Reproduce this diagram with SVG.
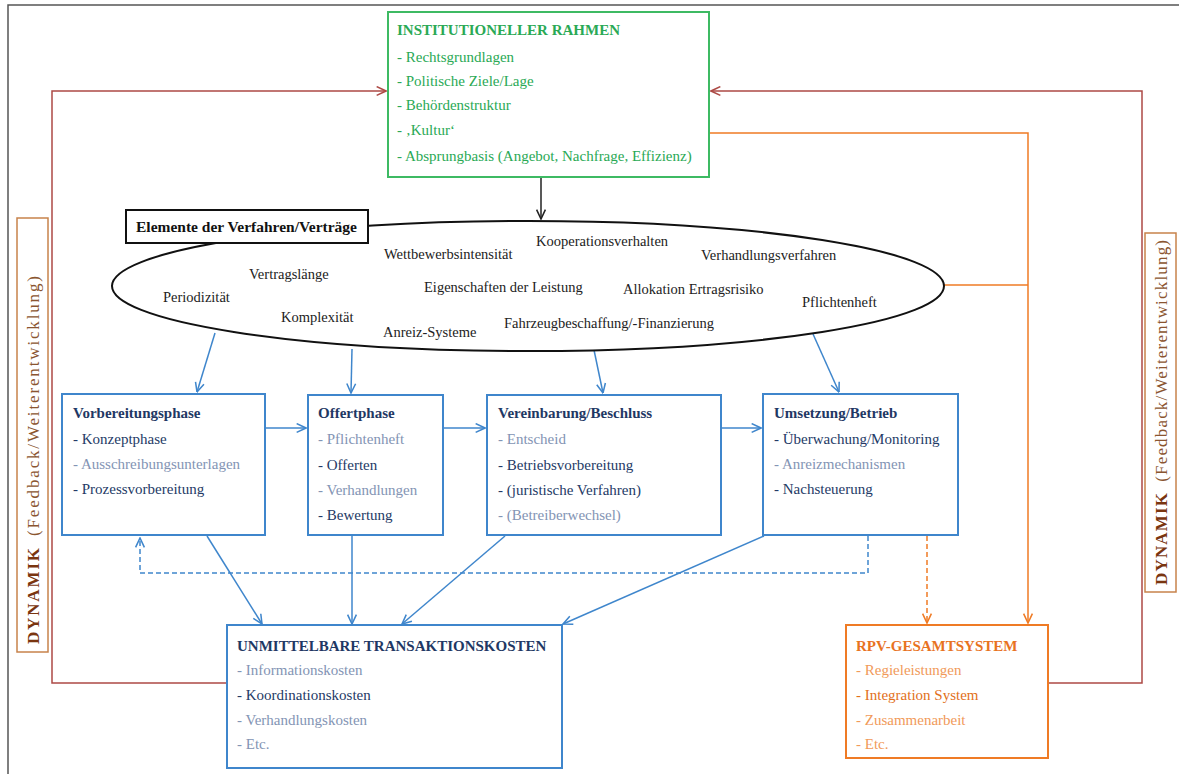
<svg xmlns="http://www.w3.org/2000/svg" width="1179" height="774" viewBox="0 0 1179 774">
  <defs>
    <marker id="ah-black" viewBox="0 0 10 10" refX="9.5" refY="5" markerWidth="11" markerHeight="11" markerUnits="userSpaceOnUse" orient="auto">
      <path d="M1,1 L9.5,5 L1,9" fill="none" stroke="#222" stroke-width="1.4"/>
    </marker>
    <marker id="ah-blue" viewBox="0 0 10 10" refX="9.5" refY="5" markerWidth="11" markerHeight="11" markerUnits="userSpaceOnUse" orient="auto">
      <path d="M1,1 L9.5,5 L1,9" fill="none" stroke="#3f86cc" stroke-width="1.4"/>
    </marker>
    <marker id="ah-orange" viewBox="0 0 10 10" refX="9.5" refY="5" markerWidth="11" markerHeight="11" markerUnits="userSpaceOnUse" orient="auto">
      <path d="M1,1 L9.5,5 L1,9" fill="none" stroke="#ef7b25" stroke-width="1.4"/>
    </marker>
    <marker id="ah-red" viewBox="0 0 10 10" refX="9.5" refY="5" markerWidth="11" markerHeight="11" markerUnits="userSpaceOnUse" orient="auto">
      <path d="M1,1 L9.5,5 L1,9" fill="none" stroke="#ad4a45" stroke-width="1.4"/>
    </marker>
  </defs>
  <style>
    text { font-family: "Liberation Serif", "Times New Roman", serif; font-size: 15px; }
    .box { fill: #fff; stroke-width: 2; }
    .blue { stroke: #3f86cc; }
    .green { stroke: #3dba63; }
    .orange { stroke: #ef7b25; }
    .tg { fill: #2aa955; }
    .tgb { fill: #2aa955; font-weight: bold; }
    .hd { fill: #1f3864; font-weight: bold; }
    .dk { fill: #243a66; }
    .lt { fill: #8394b4; }
    .oh { fill: #e8731f; font-weight: bold; }
    .od { fill: #e2701a; }
    .ol { fill: #f19a5a; }
    .el { fill: #222; font-size: 14.5px; }
    .title { fill: #111; font-weight: bold; font-size: 15.5px; }
    .con { fill: none; stroke-width: 1.5; }
    .dyn { fill: #fff; stroke: #c7834b; stroke-width: 1.5; }
    .dyntext { font-size: 17px; }
    .dynb { fill: #7a3510; font-weight: bold; }
    .dynl { fill: #8a5530; }
  </style>

  <rect width="1179" height="774" fill="#fff"/>
  <!-- page frame -->
  <path d="M8,774 V5 H1179" fill="none" stroke="#555" stroke-width="1.5"/>

  <!-- connectors -->
  <g id="connectors">
    <!-- feedback loops -->
    <path class="con" stroke="#ad4a45" d="M227,683 H52 V91 H386" marker-end="url(#ah-red)"/>
    <path class="con" stroke="#ad4a45" d="M1048,683 H1142 V91 H711" marker-end="url(#ah-red)"/>
    <!-- framework to elements -->
    <path class="con" stroke="#222" d="M541,177 V219" marker-end="url(#ah-black)"/>
    <!-- framework and elements to overall system -->
    <path class="con" stroke="#ef7b25" d="M709,133 H1028 V623" marker-end="url(#ah-orange)"/>
    <path class="con" stroke="#ef7b25" d="M944,285 H1028"/>
    <path class="con" stroke="#ef7b25" stroke-dasharray="5,3" d="M927,536 V623" marker-end="url(#ah-orange)"/>
    <!-- elements to phases -->
    <path class="con" stroke="#3f86cc" d="M215,333 L197,392" marker-end="url(#ah-blue)"/>
    <path class="con" stroke="#3f86cc" d="M352,349 L351,393" marker-end="url(#ah-blue)"/>
    <path class="con" stroke="#3f86cc" d="M594,350 L603,393" marker-end="url(#ah-blue)"/>
    <path class="con" stroke="#3f86cc" d="M813,334 L839,392" marker-end="url(#ah-blue)"/>
    <!-- phase sequence -->
    <path class="con" stroke="#3f86cc" d="M265,428 H306" marker-end="url(#ah-blue)"/>
    <path class="con" stroke="#3f86cc" d="M443,428 H485" marker-end="url(#ah-blue)"/>
    <path class="con" stroke="#3f86cc" d="M721,428 H761" marker-end="url(#ah-blue)"/>
    <!-- return loop -->
    <path class="con" stroke="#3f86cc" stroke-dasharray="5,3" d="M868,536 V573 H140 V538" marker-end="url(#ah-blue)"/>
    <!-- phases to transaction costs -->
    <path class="con" stroke="#3f86cc" d="M207,536 L262,624" marker-end="url(#ah-blue)"/>
    <path class="con" stroke="#3f86cc" d="M352,536 V624" marker-end="url(#ah-blue)"/>
    <path class="con" stroke="#3f86cc" d="M505,536 L402,624" marker-end="url(#ah-blue)"/>
    <path class="con" stroke="#3f86cc" d="M764,536 L563,624" marker-end="url(#ah-blue)"/>
  </g>

  <!-- institutional framework -->
  <g id="institutioneller-rahmen">
    <rect class="box green" x="388" y="12" width="321" height="165"/>
    <text class="tgb" x="397" y="35">INSTITUTIONELLER RAHMEN</text>
    <text class="tg" x="397" y="62">- Rechtsgrundlagen</text>
    <text class="tg" x="397" y="86">- Politische Ziele/Lage</text>
    <text class="tg" x="397" y="110">- Behördenstruktur</text>
    <text class="tg" x="397" y="135">- ‚Kultur‘</text>
    <text class="tg" x="397" y="161">- Absprungbasis (Angebot, Nachfrage, Effizienz)</text>
  </g>

  <!-- elements of procedures/contracts -->
  <g id="elemente">
    <ellipse cx="528" cy="286" rx="416" ry="65" fill="#fff" stroke="#111" stroke-width="2"/>
    <rect x="126" y="210" width="242" height="33" fill="#fff" stroke="#111" stroke-width="2"/>
    <text class="title" x="136" y="232">Elemente der Verfahren/Verträge</text>
    <text class="el" x="163" y="302">Periodizität</text>
    <text class="el" x="249" y="279">Vertragslänge</text>
    <text class="el" x="281" y="322">Komplexität</text>
    <text class="el" x="383" y="337">Anreiz-Systeme</text>
    <text class="el" x="384" y="259">Wettbewerbsintensität</text>
    <text class="el" x="424" y="292">Eigenschaften der Leistung</text>
    <text class="el" x="536" y="246">Kooperationsverhalten</text>
    <text class="el" x="504" y="328">Fahrzeugbeschaffung/-Finanzierung</text>
    <text class="el" x="623" y="294">Allokation Ertragsrisiko</text>
    <text class="el" x="701" y="260">Verhandlungsverfahren</text>
    <text class="el" x="802" y="307">Pflichtenheft</text>
  </g>

  <!-- phases -->
  <g id="vorbereitungsphase">
    <rect class="box blue" x="62" y="394" width="203" height="141"/>
    <text class="hd" x="73" y="418">Vorbereitungsphase</text>
    <text class="dk" x="73" y="444">- Konzeptphase</text>
    <text class="lt" x="73" y="469">- Ausschreibungsunterlagen</text>
    <text class="dk" x="73" y="494">- Prozessvorbereitung</text>
  </g>
  <g id="offertphase">
    <rect class="box blue" x="308" y="395" width="135" height="140"/>
    <text class="hd" x="318" y="418">Offertphase</text>
    <text class="lt" x="318" y="444">- Pflichtenheft</text>
    <text class="dk" x="318" y="470">- Offerten</text>
    <text class="lt" x="318" y="495">- Verhandlungen</text>
    <text class="dk" x="318" y="520">- Bewertung</text>
  </g>
  <g id="vereinbarung">
    <rect class="box blue" x="487" y="395" width="234" height="140"/>
    <text class="hd" x="498" y="418">Vereinbarung/Beschluss</text>
    <text class="lt" x="498" y="444">- Entscheid</text>
    <text class="dk" x="498" y="470">- Betriebsvorbereitung</text>
    <text class="dk" x="498" y="495">- (juristische Verfahren)</text>
    <text class="lt" x="498" y="520">- (Betreiberwechsel)</text>
  </g>
  <g id="umsetzung">
    <rect class="box blue" x="763" y="394" width="195" height="141"/>
    <text class="hd" x="774" y="418">Umsetzung/Betrieb</text>
    <text class="dk" x="774" y="444">- Überwachung/Monitoring</text>
    <text class="lt" x="774" y="469">- Anreizmechanismen</text>
    <text class="dk" x="774" y="494">- Nachsteuerung</text>
  </g>

  <!-- direct transaction costs -->
  <g id="transaktionskosten">
    <rect class="box blue" x="227" y="625" width="335" height="143"/>
    <text class="hd" x="237" y="651">UNMITTELBARE TRANSAKTIONSKOSTEN</text>
    <text class="lt" x="237" y="675">- Informationskosten</text>
    <text class="dk" x="237" y="700">- Koordinationskosten</text>
    <text class="lt" x="237" y="725">- Verhandlungskosten</text>
    <text class="lt" x="237" y="749">- Etc.</text>
  </g>

  <!-- overall system -->
  <g id="rpv-gesamtsystem">
    <rect class="box orange" x="846" y="625" width="202" height="133"/>
    <text class="oh" x="856" y="651">RPV-GESAMTSYSTEM</text>
    <text class="ol" x="856" y="675">- Regieleistungen</text>
    <text class="od" x="856" y="700">- Integration System</text>
    <text class="ol" x="856" y="725">- Zusammenarbeit</text>
    <text class="ol" x="856" y="749">- Etc.</text>
  </g>

  <!-- dynamics labels -->
  <g id="dynamik-links">
    <rect class="dyn" x="17" y="218" width="31" height="434"/>
    <text class="dyntext" transform="translate(39,644) rotate(-90)" textLength="368" lengthAdjust="spacing"><tspan class="dynb">DYNAMIK</tspan><tspan class="dynl" dx="10">(Feedback/Weiterentwicklung)</tspan></text>
  </g>
  <g id="dynamik-rechts">
    <rect class="dyn" x="1145" y="233" width="31" height="359"/>
    <text class="dyntext" transform="translate(1167,585) rotate(-90)" textLength="345" lengthAdjust="spacing"><tspan class="dynb">DYNAMIK</tspan><tspan class="dynl" dx="10">(Feedback/Weiterentwicklung)</tspan></text>
  </g>
</svg>
